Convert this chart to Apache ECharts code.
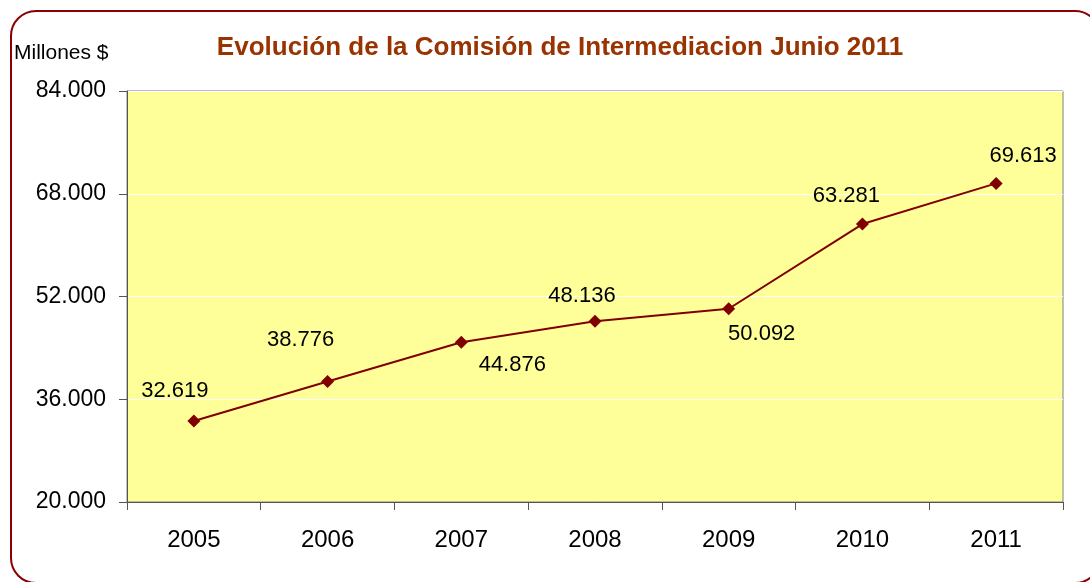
<!DOCTYPE html>
<html><head><meta charset="utf-8">
<script src="https://cdn.jsdelivr.net/npm/echarts@6/dist/echarts.min.js"></script>
<style>html,body{margin:0;padding:0;background:#fff}#c{width:1090px;height:582px}</style>
</head><body><div id="c"></div>
<script>
const years = ['2005','2006','2007','2008','2009','2010','2011'];
const comision = [32619, 38776, 44876, 48136, 50092, 63281, 69613];
const yTicks = [20000, 36000, 52000, 68000, 84000];
const titleText = 'Evolución de la Comisión de Intermediacion Junio 2011';
const unitText = 'Millones $';

const labelOffsets = [[-19,-30],[-27,-41],[51,23],[-13,-25],[33,25],[-16,-28],[27,-27]];
const fmt = v => String(v).replace(/\B(?=(\d{3})+(?!\d))/g, '.');

const chart = echarts.init(document.getElementById('c'), null, {renderer:'canvas'});
chart.setOption({
  animation:false,
  backgroundColor:'#ffffff',
  title:{text:titleText, left:555, top:30, textAlign:'center',
    textStyle:{fontFamily:'Liberation Sans, Arial, sans-serif', fontSize:26, fontWeight:'bold', color:'#993300'}},
  graphic:[
    {type:'rect', shape:{x:11, y:11, width:1089, height:572, r:25}, silent:true, z:-1,
     style:{fill:'none', stroke:'#8B0000', lineWidth:2}},
    {type:'text', left:14, top:43, style:{text:unitText, font:'21px "Liberation Sans", Arial, sans-serif', fill:'#000'}}
  ],
  grid:{left:127, top:91, width:936, height:411, show:true, backgroundColor:'#FFFF99', borderColor:'#808080', borderWidth:1},
  xAxis:{type:'category', data:years, boundaryGap:true,
    axisLine:{lineStyle:{color:'#555555', width:1}},
    axisTick:{show:true, length:8, lineStyle:{color:'#555555'}},
    axisLabel:{color:'#000', fontSize:24, margin:26, fontFamily:'Liberation Sans, Arial, sans-serif'}},
  yAxis:{type:'value', min:yTicks[0], max:yTicks[yTicks.length-1], interval:yTicks[1]-yTicks[0],
    axisLine:{show:true, lineStyle:{color:'#555555', width:1}},
    axisTick:{show:true, length:8, lineStyle:{color:'#555555'}},
    splitLine:{show:true, lineStyle:{color:'#ffffff', width:1}},
    axisLabel:{color:'#000', fontSize:23, margin:21, fontFamily:'Liberation Sans, Arial, sans-serif', formatter:fmt}},
  series:[{type:'line', data:comision.map((v,i)=>({value:v, label:{offset:labelOffsets[i]}})),
    symbol:'diamond', symbolSize:13,
    lineStyle:{color:'#800000', width:2}, itemStyle:{color:'#800000'},
    label:{show:true, position:'inside', color:'#000', fontSize:22,
      fontFamily:'Liberation Sans, Arial, sans-serif',
      formatter:p=>fmt(p.value)}}]
});
</script></body></html>
